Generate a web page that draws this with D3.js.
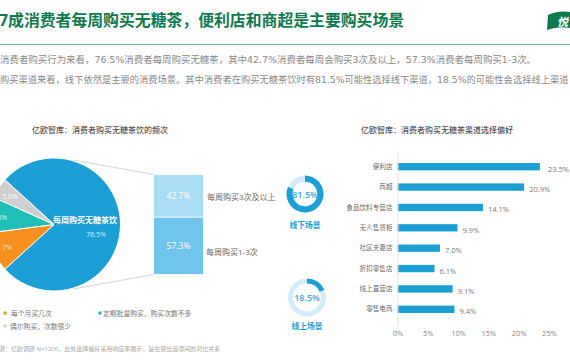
<!DOCTYPE html>
<html>
<head>
<meta charset="utf-8">
<script src="https://cdn.jsdelivr.net/npm/d3@7"></script>
<style>
  html, body { margin: 0; padding: 0; background: #fff; overflow: hidden; }
  text { font-family: "Open Sans", "Noto Sans CJK SC", sans-serif; }
</style>
</head>
<body>
<svg id="chart" width="570" height="360"></svg>
<script>
var titleText = "7成消费者每周购买无糖茶，便利店和商超是主要购买场景";
var introLines = [
  "消费者购买行为来看，76.5%消费者每周购买无糖茶，其中42.7%消费者每周会购买3次及以上，57.3%消费者每周购买1-3次。",
  "购买渠道来看，线下依然是主要的消费场景。其中消费者在购买无糖茶饮时有81.5%可能性选择线下渠道，18.5%的可能性会选择线上渠道"
];
var sourceText = "源：亿欧调研 N=1200，此处选择偏好采用响应率展示，旨在突出选项间的对比关系";

var pieNames = ["定期批量购买，购买次数不多", "每个月买几次", "每周购买无糖茶饮", "偶尔购买，次数很少"];
var pieValues = [76.5, 9.7, 8.8, 5.0];
var pieColors = ["#1c9fd5", "#f7901e", "#1fbfb8", "#cfcfcf"];

var stackNames = ["每周购买3次及以上", "每周购买1-3次"];
var stackValues = [42.7, 57.3];
var stackColors = ["#a9ddf3", "#6fc5ec"];

var channels = ["便利店", "商超", "食品饮料专营店", "无人售货柜", "社区夫妻店", "折扣零售店", "线上直营店", "零售电商"];
var channelValues = [23.5, 20.9, 14.1, 9.9, 7.0, 6.1, 9.1, 9.4];
var xTicks = [0, 5, 10, 15, 20, 25];

var ringNames = ["线下场景", "线上场景"];
var ringValues = [81.5, 18.5];

var blue = "#1c9fd5";
var svg = d3.select("#chart");

function label(x, y, str, size, color, anchor, weight) {
  return svg.append("text")
    .attr("x", x)
    .attr("y", y)
    .attr("font-size", size)
    .attr("fill", color)
    .attr("text-anchor", anchor || "start")
    .attr("font-weight", weight || 400)
    .text(str);
}

// header
label(-1, 25.5, titleText, 15.85, "#0f7a4e", "start", 700);
svg.append("line")
  .attr("x1", 0).attr("x2", 570)
  .attr("y1", 44.5).attr("y2", 44.5)
  .attr("stroke", "#6db38f");
svg.append("path")
  .attr("d", "M548,15 Q558,10 570,12 L570,28 Q558,26 547,30 Z")
  .attr("fill", "#0f7a4e");
label(557, 26, "悦", 11, "#fff", "start", 700).attr("font-style", "italic");
introLines.forEach(function (d, i) {
  label(0, 62.5 + i * 20, d, i == 0 ? 9.45 : 9.28, "#8a8a8a").style("font-family", '"DejaVu Sans", "Noto Sans CJK SC"');
});

// pie
var cx = 54, cy = 224.5, r = 66.5;
var blueAngle = pieValues[0] / 100 * 2 * Math.PI;
var pie = d3.pie()
  .sort(null)
  .startAngle(Math.PI / 2 - blueAngle / 2)
  .endAngle(Math.PI / 2 - blueAngle / 2 + 2 * Math.PI);
var arc = d3.arc().innerRadius(0).outerRadius(r);
var pieG = svg.append("g").attr("transform", "translate(" + cx + "," + cy + ")");
pieG.selectAll("path")
  .data(pie(pieValues))
  .enter().append("path")
  .attr("d", arc)
  .attr("fill", function (d, i) { return pieColors[i]; })
  .attr("stroke", "#fff")
  .attr("stroke-width", 1);

label(85, 223, pieNames[2], 8, "#fff", "middle", 700);
label(96, 237, pieValues[0].toFixed(1) + "%", 7, "#d5eef9", "middle");
label(12, 250, pieValues[1].toFixed(1) + "%", 7, "#fde3c4", "end");
label(7, 220, pieValues[2].toFixed(1) + "%", 7, "#d5f3f1", "end");
label(10, 199, pieValues[3].toFixed(1) + "%", 7, "#fff", "middle");

// stacked bar
var stackX = 153.5, stackW = 50;
var stackY = d3.scaleLinear().domain([0, 100]).range([174.5, 274.5]);
var offset = 0;
stackValues.forEach(function (d, i) {
  var y0 = stackY(offset), y1 = stackY(offset + d);
  svg.append("rect")
    .attr("x", stackX).attr("y", y0)
    .attr("width", stackW).attr("height", y1 - y0)
    .attr("fill", stackColors[i])
    .attr("stroke", "#fff")
    .attr("stroke-width", 0.8);
  label(stackX + stackW / 2, (y0 + y1) / 2 + 3, d.toFixed(1) + "%", 8.5, "#fff", "middle");
  offset += d;
});
label(207, 200, stackNames[0], 8, "#666");
label(206, 255, stackNames[1], 8, "#666");
svg.append("line").attr("x1", 73).attr("y1", 160).attr("x2", stackX).attr("y2", stackY(0)).attr("stroke", "#d5d5d5");
svg.append("line").attr("x1", 73).attr("y1", 289).attr("x2", stackX).attr("y2", stackY(100)).attr("stroke", "#d5d5d5");

// legend
var legendItems = [[5, 313, 1, 11], [100, 313, 0, 103], [5, 326, 3, 10]];
legendItems.forEach(function (d) {
  svg.append("rect")
    .attr("x", d[0] - 1.5).attr("y", d[1] - 1.5)
    .attr("width", 3).attr("height", 3)
    .attr("fill", d[2] == 0 ? "#17b3c9" : pieColors[d[2]]);
  label(d[3], d[1] + 3, pieNames[d[2]], 6.8, "#777");
});
label(-1, 351, sourceText, 6, "#a5a5a5");

// chart titles
label(32, 133, "亿欧智库：消费者购买无糖茶饮的频次", 8, "#555", "start", 500);
label(361, 133, "亿欧智库：消费者购买无糖茶渠道选择偏好", 8, "#555", "start", 500);

// rings
var ringArc = d3.arc();
var ringCenters = [[305, 194], [307, 297.5]];
var ringRadii = [[12.3, 18.5], [14, 19]];
ringValues.forEach(function (d, i) {
  var g = svg.append("g").attr("transform", "translate(" + ringCenters[i][0] + "," + ringCenters[i][1] + ")");
  var slices = d3.pie().sort(null)([d, 100 - d]);
  g.selectAll("path")
    .data(slices)
    .enter().append("path")
    .attr("d", function (s) {
      return ringArc({ innerRadius: ringRadii[i][0], outerRadius: ringRadii[i][1], startAngle: s.startAngle, endAngle: s.endAngle });
    })
    .attr("fill", function (s, j) { return j == 0 ? blue : "#d2ecf8"; });
  g.append("text")
    .attr("y", 3.5)
    .attr("text-anchor", "middle")
    .attr("font-size", 9)
    .attr("font-weight", 600)
    .attr("fill", "#3aa9dc")
    .text(d.toFixed(1) + "%");
  label(ringCenters[i][0], ringCenters[i][1] + (i == 0 ? 33.5 : 31), ringNames[i], 7.8, blue, "middle", 700);
});

// bar chart
var x = d3.scaleLinear().domain([0, 25]).range([397.5, 549]);
var y = d3.scaleBand().domain(channels).range([150, 326]).padding(0.64);

svg.selectAll(".bar")
  .data(channelValues)
  .enter().append("rect")
  .attr("class", "bar")
  .attr("x", x(0))
  .attr("y", function (d, i) { return y(channels[i]); })
  .attr("width", function (d) { return x(d) - x(0); })
  .attr("height", y.bandwidth())
  .attr("fill", blue);

svg.selectAll(".val")
  .data(channelValues)
  .enter().append("text")
  .attr("class", "val")
  .attr("x", function (d, i) { return x(d) + (i == 0 ? 8 : 5); })
  .attr("y", function (d, i) { return y(channels[i]) + y.bandwidth() / 2 + 5; })
  .attr("font-size", 7.5)
  .attr("fill", "#777")
  .text(function (d) { return d.toFixed(1) + "%"; });

var yAxis = svg.append("g")
  .attr("transform", "translate(" + x(0) + ",0)")
  .call(d3.axisLeft(y).tickSize(0).tickPadding(5));
yAxis.select(".domain").attr("stroke", "#e4e4e4");
yAxis.selectAll("text").attr("font-size", 6.6).attr("fill", "#666").attr("font-family", '"Noto Sans CJK SC"');

var xAxis = svg.append("g")
  .attr("transform", "translate(0,328)")
  .call(d3.axisBottom(x).tickValues(xTicks).tickSize(0).tickPadding(3).tickFormat(function (d) { return d + "%"; }));
xAxis.select(".domain").remove();
xAxis.selectAll("text").attr("font-size", 7.5).attr("fill", "#888").attr("font-family", '"Open Sans"');
</script>
</body>
</html>
